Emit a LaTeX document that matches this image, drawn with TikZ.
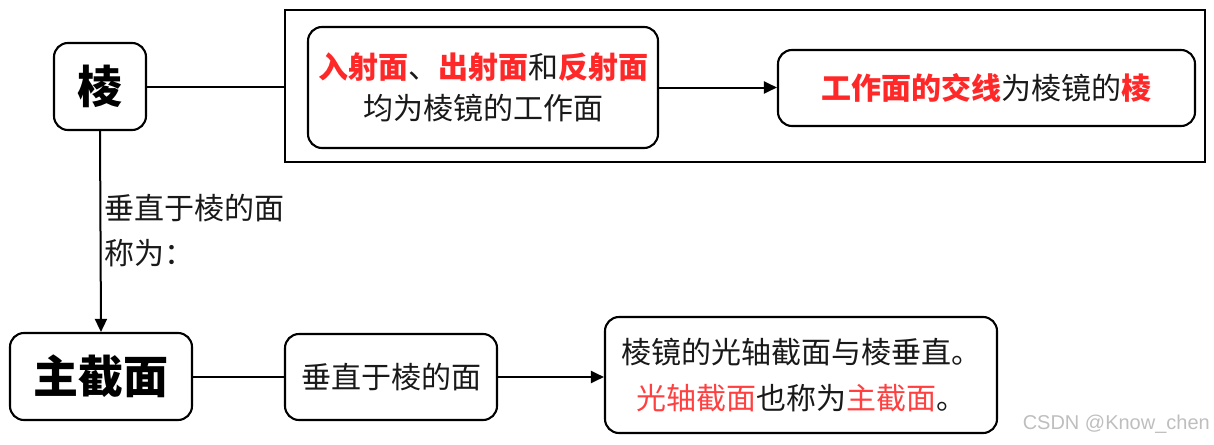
\documentclass[tikz,border=0pt]{standalone}
\usepackage{fontspec}
\setmainfont{Noto Sans CJK SC}
\newfontfamily\wmfont{Liberation Sans}
\usetikzlibrary{arrows.meta}
\definecolor{hl}{RGB}{255,40,40}
\definecolor{hlc}{RGB}{255,64,64}
\definecolor{wm}{RGB}{190,190,190}
\definecolor{ink}{RGB}{25,25,25}
\tikzset{
  box/.style={draw, line width=2.1pt, rounded corners=14pt, inner sep=0pt, align=center, text=ink, font=\fontsize{30}{41}\selectfont},
  bigbox/.style={box, text=black, font=\fontsize{45}{45}\selectfont\bfseries},
  frame/.style={draw, line width=2.1pt, inner sep=0pt},
  conn/.style={line width=2pt},
  arr/.style={conn, -{Triangle[length=13pt,width=12pt]}},
  lbl/.style={inner sep=0pt, align=left, text=ink, font=\fontsize{30}{45}\selectfont},
}
\begin{document}
\begin{tikzpicture}[x=1pt,y=-1pt]
\useasboundingbox (0,0) rectangle (1214,444);
\node[bigbox, minimum width=92pt, minimum height=87pt] (L) at (100,86.5) {棱};
\node[frame, minimum width=920pt, minimum height=152pt] (O) at (745,86) {};
\node[box, minimum width=350pt, minimum height=121pt] (A) at (483,87.5)
  {{\color{hl}\bfseries 入射面}、{\color{hl}\bfseries 出射面}和{\color{hl}\bfseries 反射面}\\均为棱镜的工作面};
\node[box, minimum width=417pt, minimum height=76pt] (B) at (986.5,88)
  {{\color{hl}\bfseries 工作面的交线}为棱镜的{\color{hl}\bfseries 棱}};
\node[bigbox, minimum width=182pt, minimum height=87pt] (Z) at (101,376.5) {主截面};
\node[box, minimum width=212pt, minimum height=86pt] (P) at (391,377) {垂直于棱的面};
\node[box, minimum width=392pt, minimum height=116pt, font=\fontsize{30}{46}\selectfont] (C) at (801,375)
  {棱镜的光轴截面与棱垂直。\\{\color{hlc}光轴截面}也称为{\color{hlc}主截面}。};
\node[lbl, anchor=west] (T) at (104,231) {垂直于棱的面\\称为：};
\node[inner sep=0pt, anchor=east, font=\wmfont\fontsize{20}{20}\selectfont, text=wm] (W) at (1210,424) {CSDN @Know\_chen};
\draw[conn] (L.east) -- (O.west |- L.east);
\draw[arr] (A.east) -- (B.west |- A.east);
\draw[arr] (L.south) -- (Z.north);
\draw[conn] (Z.east) -- (P.west |- Z.east);
\draw[arr] (P.east) -- (C.west |- P.east);
\end{tikzpicture}
\end{document}
